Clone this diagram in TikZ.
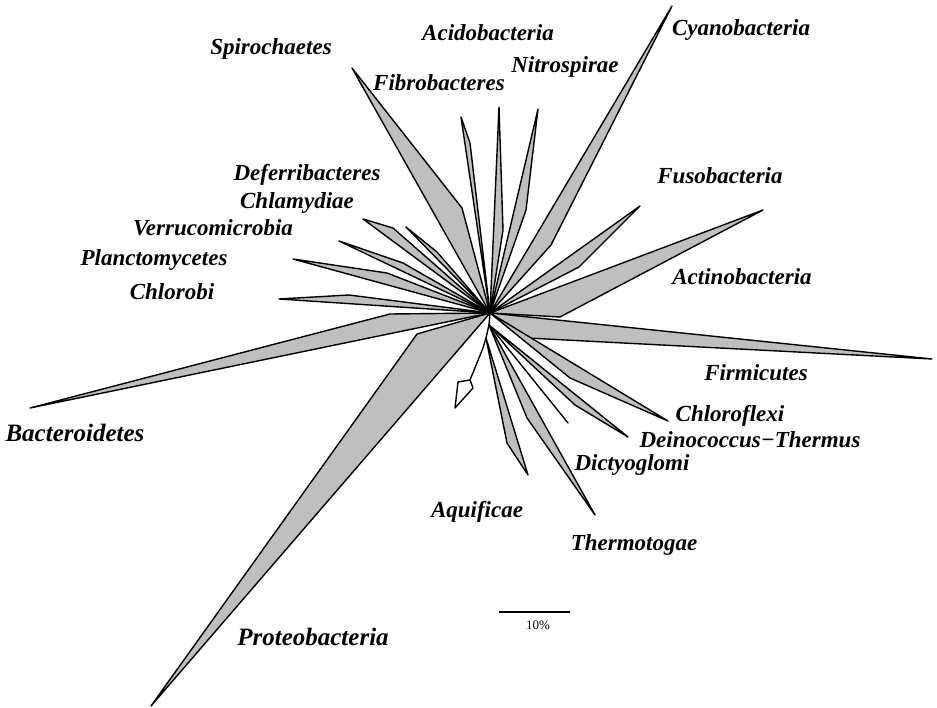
\documentclass[tikz,border=0pt]{standalone}
\usepackage{fontspec}
\setmainfont{Liberation Serif}
\usepackage{tikz}

\begin{document}
\begin{tikzpicture}[x=1pt,y=-1pt,line cap=round,line join=round,
  wedge/.style={draw,line width=1.4pt,fill=black!25},
  branch/.style={draw,line width=1.4pt},
  taxon/.style={font=\fontsize{23}{26}\selectfont\bfseries\itshape,anchor=base,inner sep=0pt},
  bigtaxon/.style={taxon,font=\fontsize{25}{28}\selectfont\bfseries\itshape}]
\useasboundingbox (0,0) rectangle (937,708);
% centre of the star and the short stem below it
\coordinate (root) at (490,313);
\coordinate (low) at (489,325);
\coordinate (aqroot) at (486,338);
% upper right groups
\draw[wedge] (root) -- (503,230) -- (499,107) -- cycle;
\draw[wedge] (root) -- (526,210) -- (538,109) -- cycle;
\draw[wedge] (root) -- (551,245) -- (672,6) -- cycle;
\draw[wedge] (root) -- (579,267) -- (640,206) -- cycle;
\draw[wedge] (root) -- (560,317) -- (763,210) -- cycle;
\draw[wedge] (root) -- (527,338) -- (932,359) -- cycle;
% lower right groups
\draw[wedge] (root) -- (570,378) -- (668,421) -- cycle;
\draw[wedge] (low) -- (575,405) -- (628,437) -- cycle;
\draw[branch] (low) -- (568,423);
\draw[wedge] (low) -- (527,418) -- (595,515) -- cycle;
\draw[wedge] (aqroot) -- (507,443) -- (528,475) -- cycle;
% upper left groups
\draw[wedge] (root) -- (470,143) -- (461,117) -- cycle;
\draw[wedge] (root) -- (462,208) -- (352,68) -- cycle;
\draw[wedge] (root) -- (393,228) -- (363,219) -- cycle;
\draw[wedge] (root) -- (437,252) -- (406,227) -- cycle;
\draw[wedge] (root) -- (403,263) -- (339,241) -- cycle;
\draw[wedge] (root) -- (387,273) -- (293,259) -- cycle;
\draw[wedge] (root) -- (349,295) -- (279,299) -- cycle;
% lower left groups
\draw[wedge] (root) -- (390,314) -- (30,408) -- cycle;
\draw[wedge] (root) -- (417,334) -- (151,706) -- cycle;
% stem with the root marker
\draw[branch] (root) -- (low) -- (aqroot) -- (483,348) -- (470,380);
\draw[branch,fill=white] (470,380) -- (473,388) -- (455,408) -- (458,382) -- cycle;
% group names
\node[taxon] (acido) at (488,41) {Acidobacteria};
\node[taxon] (nitro) at (565,73) {Nitrospirae};
\node[taxon] (fibro) at (439,91) {Fibrobacteres};
\node[taxon] (spiro) at (271,55) {Spirochaetes};
\node[taxon] (cyano) at (741,36) {Cyanobacteria};
\node[taxon] (fuso) at (720,184) {Fusobacteria};
\node[taxon] (actino) at (742,285) {Actinobacteria};
\node[taxon] (firmi) at (756,381) {Firmicutes};
\node[taxon] (chlorofl) at (730,421) {Chloroflexi};
\node[taxon] (deino) at (750,447) {Deinococcus−Thermus};
\node[taxon] (dictyo) at (632,470) {Dictyoglomi};
\node[taxon] (thermo) at (634,550) {Thermotogae};
\node[taxon] (aquif) at (477,517) {Aquificae};
\node[bigtaxon] (proteo) at (313,645) {Proteobacteria};
\node[bigtaxon] (bactero) at (75,441) {Bacteroidetes};
\node[taxon] (chlorobi) at (172,300) {Chlorobi};
\node[taxon] (plancto) at (154,266) {Planctomycetes};
\node[taxon] (verruco) at (213,236) {Verrucomicrobia};
\node[taxon] (chlamy) at (297,209) {Chlamydiae};
\node[taxon] (deferri) at (307,181) {Deferribacteres};
% scale bar
\draw[branch,line cap=butt] (499,612) coordinate (barl) -- (570,612) coordinate (barr);
\node[font=\fontsize{13}{15}\selectfont,anchor=base,inner sep=0pt] (barlabel) at (538,629) {10\%};
\end{tikzpicture}
\end{document}
